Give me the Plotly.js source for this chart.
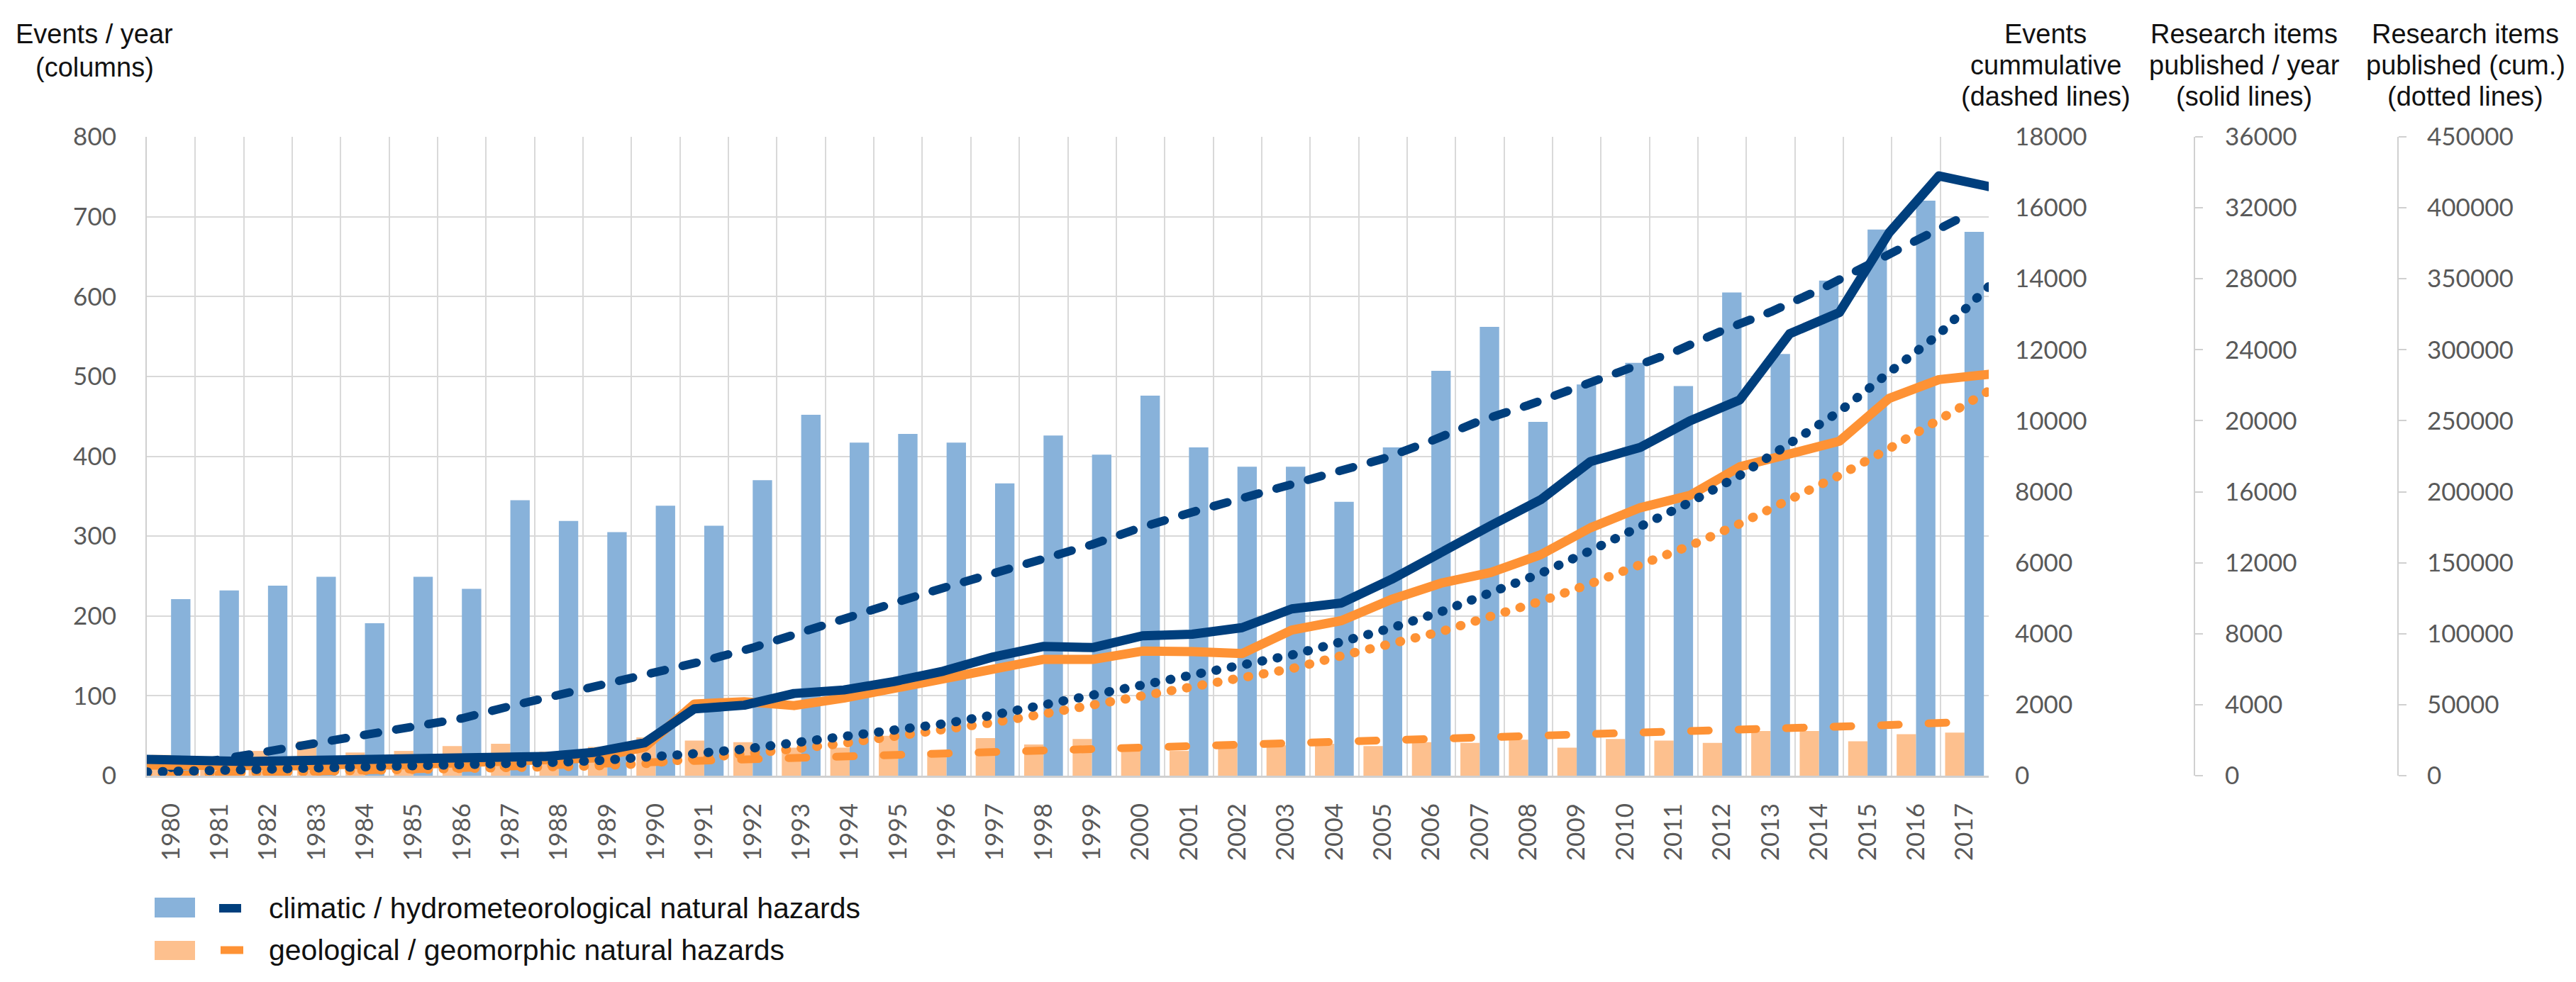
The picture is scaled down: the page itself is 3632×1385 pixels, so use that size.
<!DOCTYPE html>
<html>
<head>
<meta charset="utf-8">
<script src="https://cdn.plot.ly/plotly-3.0.1.min.js"></script>
<style>
  html, body { margin: 0; padding: 0; background: #fff; }
  #chart { width: 3632px; height: 1385px; }
  /* round ends so that the dotted lines come out as round dots */
  .scatterlayer .js-line { stroke-linecap: round; stroke-linejoin: round; }
</style>
</head>
<body>
<div id="chart"></div>
<script>
// years on the category axis
var years = [1980, 1981, 1982, 1983, 1984, 1985, 1986, 1987, 1988, 1989,
             1990, 1991, 1992, 1993, 1994, 1995, 1996, 1997, 1998, 1999,
             2000, 2001, 2002, 2003, 2004, 2005, 2006, 2007, 2008, 2009,
             2010, 2011, 2012, 2013, 2014, 2015, 2016, 2017];

// events / year (columns)
var climaticEvents = [221, 232, 238, 249, 191, 249, 234, 345, 319, 305,
                      338, 313, 370, 452, 417, 428, 417, 366, 426, 402,
                      476, 411, 387, 387, 343, 411, 507, 562, 443, 490,
                      517, 488, 605, 528, 620, 684, 720, 681];
var geologicalEvents = [26, 20, 31, 43, 29, 31, 37, 40, 30, 36,
                        48, 44, 42, 35, 35, 50, 30, 47, 39, 46,
                        35, 31, 37, 38, 40, 37, 42, 41, 45, 35,
                        46, 44, 41, 56, 56, 43, 52, 54];

// events cummulative (dashed lines)
var climaticCumEvents = [221, 453, 691, 940, 1131, 1380, 1614, 1959, 2278, 2583,
                         2921, 3234, 3604, 4056, 4473, 4901, 5318, 5684, 6110, 6512,
                         6988, 7399, 7786, 8173, 8516, 8927, 9434, 9996, 10439, 10929,
                         11446, 11934, 12539, 13067, 13687, 14371, 15091, 15772];
var geologicalCumEvents = [26, 46, 77, 120, 149, 180, 217, 257, 287, 323,
                           371, 415, 457, 492, 527, 577, 607, 654, 693, 739,
                           774, 805, 842, 880, 920, 957, 999, 1040, 1085, 1120,
                           1166, 1210, 1251, 1307, 1363, 1406, 1458, 1512];

// research items published / year (solid lines)
var climaticPubs = [920, 850, 800, 850, 920, 880, 950, 1120, 1080, 1320,
                    1850, 3770, 3970, 4630, 4830, 5300, 5890, 6690, 7280, 7220,
                    7880, 7970, 8340, 9400, 9730, 11060, 12650, 14100, 15550, 17700,
                    18500, 20000, 21180, 24900, 26100, 30600, 33800, 33200];
var geologicalPubs = [600, 560, 540, 560, 640, 600, 700, 800, 800, 1000,
                      1600, 4040, 4170, 3950, 4370, 4900, 5440, 5950, 6550, 6550,
                      7020, 6990, 6880, 8210, 8740, 9930, 10850, 11450, 12450, 13970,
                      15100, 15800, 17410, 18130, 18850, 21260, 22320, 22620];

// research items published, cumulative (dotted lines)
var climaticCumPubs = [2600, 3300, 3900, 4600, 5300, 6000, 6800, 7900, 9200, 10500,
                       12300, 15500, 18700, 23100, 27200, 31600, 36500, 42700, 49700, 55700,
                       62700, 69700, 77000, 85000, 94300, 104000, 115500, 128500, 142500, 158500,
                       175000, 192600, 211500, 233500, 256500, 284000, 311000, 344500];
var geologicalCumPubs = [800, 1300, 1800, 2400, 3000, 3600, 4300, 5100, 5900, 6900,
                         8500, 11500, 15000, 18800, 22800, 27500, 32600, 37400, 43400, 49500,
                         55500, 61700, 68300, 75400, 84500, 92200, 101500, 112300, 122800, 135200,
                         148000, 162000, 177500, 194200, 211500, 230400, 250500, 271000];

var legendLabels = ['climatic / hydrometeorological natural hazards',
                    'geological / geomorphic natural hazards'];

// axis titles, one entry per text line
var titleLeft = ['Events / year', '(columns)'];
var titleCumEvents = ['Events', 'cummulative', '(dashed lines)'];
var titlePubs = ['Research items', 'published / year', '(solid lines)'];
var titleCumPubs = ['Research items', 'published (cum.)', '(dotted lines)'];

// couleurs
var BLUE_BAR = '#88b2da';
var ORANGE_BAR = '#fdc08e';
var BLUE_LINE = '#003f7d';
var ORANGE_LINE = '#fe9235';
var GRID = '#d9d9d9';
var TICK = '#595959';

// plot area in page pixels
var W = 3632, H = 1385;
var L = 207, R = 2804, T = 193, B = 1094;
var plotW = W - L;
var plotH = B - T;

// pixel -> paper
function px(X) { return (X - L) / plotW; }
function py(Y) { return (B - Y) / plotH; }

var tickFont = { family: 'Lato, "Open Sans", sans-serif', size: 35, color: TICK };
var titleFont = { family: '"Liberation Sans", Arial, sans-serif', size: 38, color: '#111' };
var legendFont = { family: '"Liberation Sans", Arial, sans-serif', size: 41, color: '#111' };

var traces = [
  {
    x: years, y: geologicalEvents, type: 'bar', xaxis: 'x', yaxis: 'y',
    marker: { color: ORANGE_BAR }, hoverinfo: 'skip'
  },
  {
    x: years, y: climaticEvents, type: 'bar', xaxis: 'x', yaxis: 'y',
    marker: { color: BLUE_BAR }, hoverinfo: 'skip'
  },
  {
    x: years, y: geologicalCumEvents, type: 'scatter', mode: 'lines', xaxis: 'x', yaxis: 'y2',
    line: { color: ORANGE_LINE, width: 11, dash: '25px,42px' }
  },
  {
    x: years, y: climaticCumEvents, type: 'scatter', mode: 'lines', xaxis: 'x', yaxis: 'y2',
    line: { color: BLUE_LINE, width: 12, dash: '20px,26px' }
  },
  {
    x: years, y: geologicalPubs, type: 'scatter', mode: 'lines', xaxis: 'x2', yaxis: 'y3',
    line: { color: ORANGE_LINE, width: 13 }
  },
  {
    x: years, y: climaticPubs, type: 'scatter', mode: 'lines', xaxis: 'x2', yaxis: 'y3',
    line: { color: BLUE_LINE, width: 13 }
  },
  {
    x: years, y: geologicalCumPubs, type: 'scatter', mode: 'lines', xaxis: 'x2', yaxis: 'y4',
    line: { color: ORANGE_LINE, width: 13, dash: '1px,21px' }
  },
  {
    x: years, y: climaticCumPubs, type: 'scatter', mode: 'lines', xaxis: 'x2', yaxis: 'y4',
    line: { color: BLUE_LINE, width: 13, dash: '1px,21px' }
  }
];

var rightAxis = {
  overlaying: 'y', side: 'right', showgrid: false, zeroline: false,
  tickfont: tickFont, tickformat: 'd', fixedrange: true
};

// multi-line titles, each line placed by hand
var annotations = [];
function addTitle(lines, X, Ys) {
  lines.forEach(function (t, i) {
    annotations.push({
      text: t, x: px(X), y: py(Ys[i]), xref: 'paper', yref: 'paper',
      xanchor: 'center', yanchor: 'middle', showarrow: false, font: titleFont
    });
  });
}
addTitle(titleLeft, 133, [48, 95]);
addTitle(titleCumEvents, 2884, [48, 92, 136]);
addTitle(titlePubs, 3164, [48, 92, 136]);
addTitle(titleCumPubs, 3476, [48, 92, 136]);

annotations.push(
  { text: legendLabels[0], x: px(377), y: py(1281), xref: 'paper', yref: 'paper',
    xanchor: 'left', yanchor: 'middle', showarrow: false, font: legendFont },
  { text: legendLabels[1], x: px(377), y: py(1340), xref: 'paper', yref: 'paper',
    xanchor: 'left', yanchor: 'middle', showarrow: false, font: legendFont }
);

var layout = {
  width: W, height: H,
  margin: { l: L, r: 0, t: T, b: H - B, pad: 0 },
  paper_bgcolor: '#fff', plot_bgcolor: '#fff',
  showlegend: false,
  barmode: 'group', bargap: 0.2, bargroupgap: 0,
  xaxis: {
    type: 'category', domain: [0, (R - L) / plotW],
    tickson: 'boundaries', ticks: '', showgrid: true, gridcolor: GRID, gridwidth: 2,
    showline: true, linecolor: '#d0d0d0', linewidth: 3,
    tickangle: -90, tickfont: tickFont, ticklabelstandoff: 22
  },
  xaxis2: {
    overlaying: 'x', range: [1980, 2017], visible: false, fixedrange: true
  },
  yaxis: {
    range: [0, 800], dtick: 100, showgrid: true, gridcolor: GRID, gridwidth: 2,
    zeroline: false, showline: true, linecolor: '#d0d0d0', linewidth: 2,
    ticks: '', tickfont: tickFont, ticklabelstandoff: 34
  },
  yaxis2: Object.assign({}, rightAxis, {
    anchor: 'x', range: [0, 18000], dtick: 2000, showline: false, ticks: '',
    ticklabelstandoff: 36
  }),
  yaxis3: Object.assign({}, rightAxis, {
    anchor: 'free', position: px(3094), range: [0, 36000], dtick: 4000,
    showline: true, linecolor: '#d0d0d0', linewidth: 2,
    ticks: 'outside', ticklen: 11, tickwidth: 2, tickcolor: '#d0d0d0',
    ticklabelstandoff: 24
  }),
  yaxis4: Object.assign({}, rightAxis, {
    anchor: 'free', position: px(3381), range: [0, 450000], dtick: 50000,
    showline: true, linecolor: '#d0d0d0', linewidth: 2,
    ticks: 'outside', ticklen: 11, tickwidth: 2, tickcolor: '#d0d0d0',
    ticklabelstandoff: 22
  }),
  annotations: annotations,
  // legende dessinee a la main : carre de colonne + tiret
  shapes: [
    { type: 'rect', xref: 'paper', yref: 'paper', x0: px(218), x1: px(275), y0: py(1294), y1: py(1266),
      fillcolor: BLUE_BAR, line: { width: 0 } },
    { type: 'line', xref: 'paper', yref: 'paper', x0: px(309), x1: px(340), y0: py(1281), y1: py(1281),
      line: { color: BLUE_LINE, width: 12 } },
    { type: 'rect', xref: 'paper', yref: 'paper', x0: px(218), x1: px(275), y0: py(1354), y1: py(1327),
      fillcolor: ORANGE_BAR, line: { width: 0 } },
    { type: 'line', xref: 'paper', yref: 'paper', x0: px(311), x1: px(343), y0: py(1340), y1: py(1340),
      line: { color: ORANGE_LINE, width: 11 } }
  ]
};

Plotly.newPlot('chart', traces, layout, { staticPlot: true });
</script>
</body>
</html>
